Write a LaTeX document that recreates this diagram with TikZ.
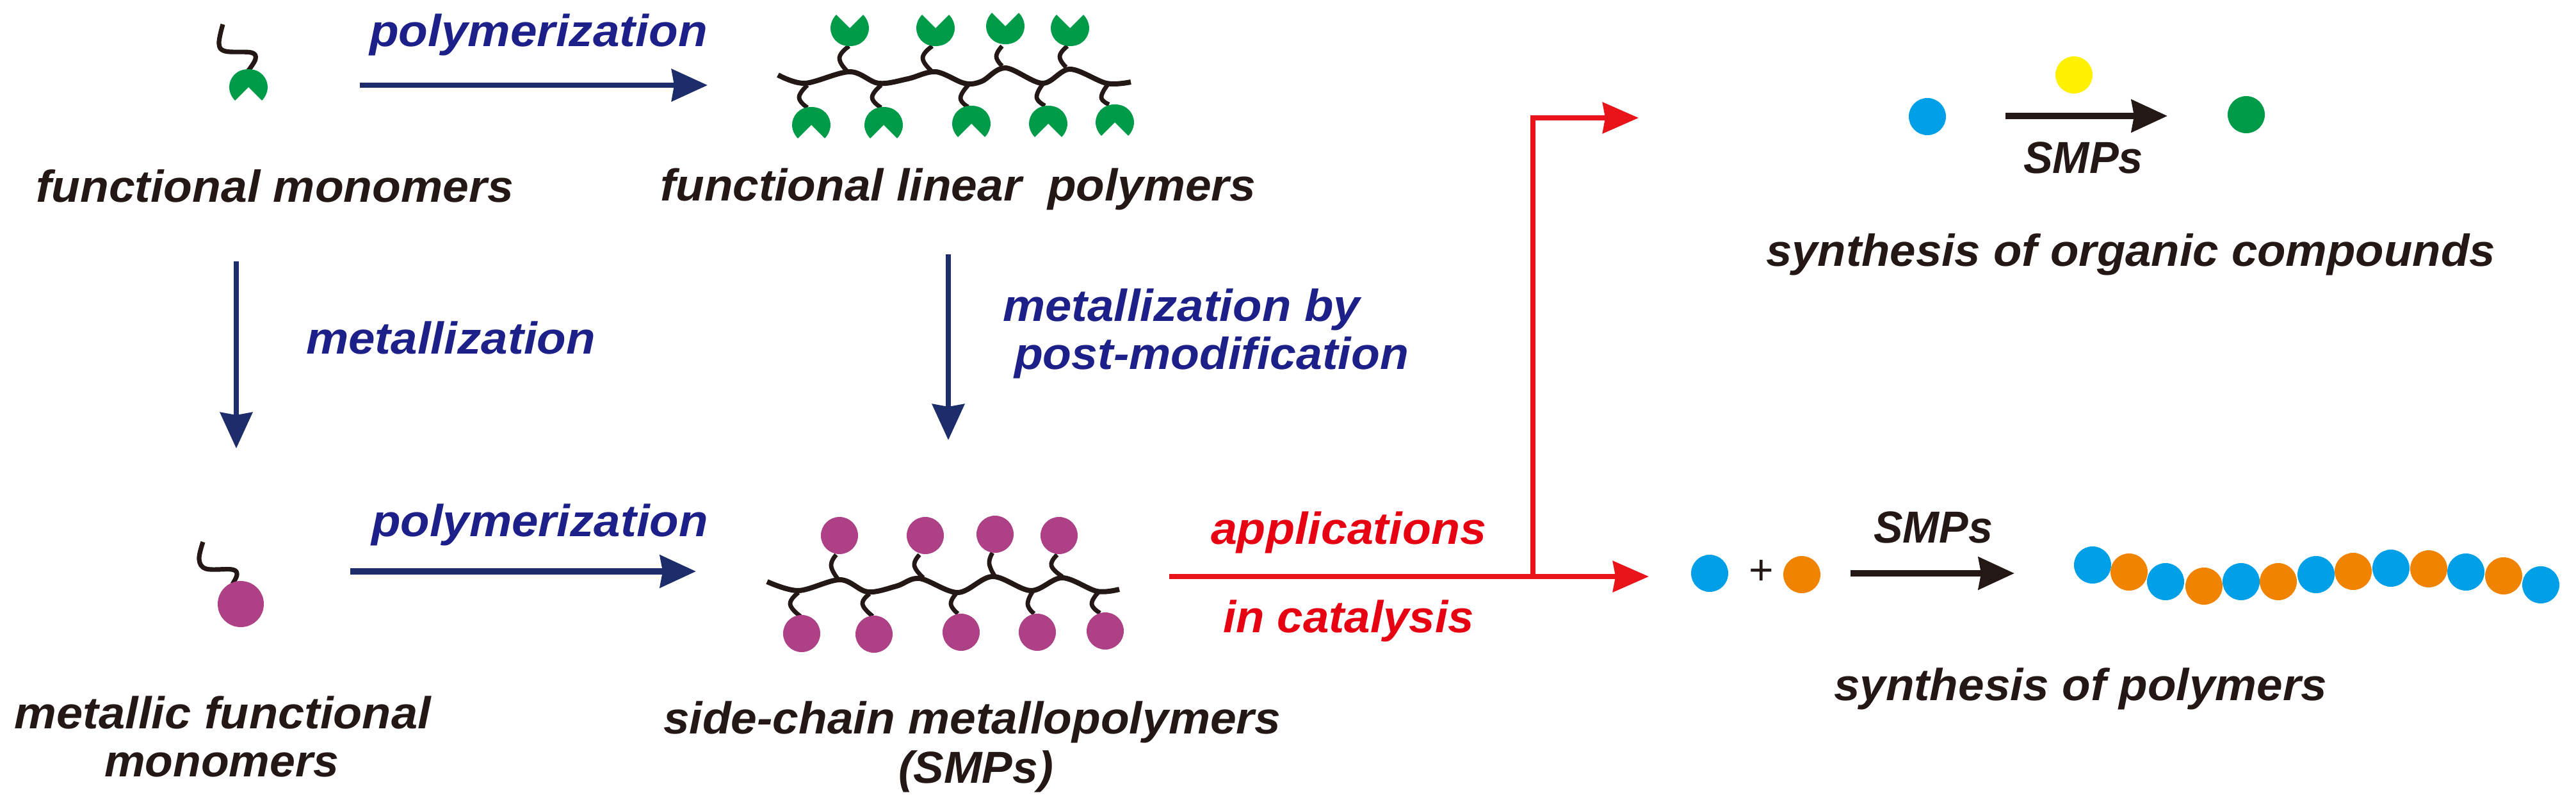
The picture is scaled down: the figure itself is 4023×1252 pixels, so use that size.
\documentclass[tikz,border=0pt]{standalone}
\usepackage{fontspec}
\usepackage{graphicx}
\setmainfont{Liberation Sans}
\usetikzlibrary{arrows.meta}
\definecolor{cblack}{HTML}{231815}
\definecolor{cnavyline}{HTML}{1D2C6B}
\definecolor{cnavytext}{HTML}{1D2088}
\definecolor{credline}{HTML}{E8141A}
\definecolor{credtext}{HTML}{E60012}
\definecolor{cgreen}{HTML}{009B48}
\definecolor{cpurple}{HTML}{AE4085}
\definecolor{cblue}{HTML}{00A0E9}
\definecolor{corange}{HTML}{F08300}
\definecolor{cyellow}{HTML}{FFF100}
\newlength\fitlen
\newcommand\fitto[2]{\settowidth\fitlen{#2}\pgfmathsetmacro\fitr{#1*0.5pt/\fitlen}\scalebox{\fitr}[1]{#2}}
\tikzset{
  x=0.5pt,y=-0.5pt,
  lab/.style={anchor=base west,inner sep=0pt,outer sep=0pt,font=\fontsize{35}{40}\selectfont\bfseries\itshape},
  blk/.style={lab,text=cblack},
  nav/.style={lab,text=cnavytext},
  rd/.style={lab,text=credtext},
  navyarrow/.style={draw=cnavyline,line width=#1,-{Stealth[length=28pt,width=25pt,inset=2pt]}},
  blackarrow/.style={draw=cblack,line width=5pt,-{Stealth[length=28pt,width=25pt,inset=2pt]}},
  redline/.style={draw=credline,line width=3.8pt},
  redarrow/.style={redline,-{Stealth[length=28pt,width=24pt,inset=2pt]}},
  backbone/.style={draw=cblack,line width=4pt,line join=round},
  sidechain/.style={draw=cblack,line width=3.4pt},
  ball/.style={circle,fill=#1,inner sep=0pt,outer sep=0pt},
  sball/.style={ball=#1,minimum size=29pt},
  mball/.style={ball=#1,minimum size=29pt},
  tulip/.pic={\fill[cgreen] (0,0) .. controls (-20,0) and (-30,-15) .. (-30,-28)
     .. controls (-30,-36) and (-26,-44) .. (-21,-49) -- (0,-28) -- (21,-49)
     .. controls (26,-44) and (30,-36) .. (30,-28) .. controls (30,-15) and (20,0) .. (0,0) -- cycle;}
}
\newcommand\wig[3]{\draw[sidechain] plot[smooth,tension=0.8] coordinates {#1 #2 #3};}
\begin{document}
\begin{tikzpicture}
\useasboundingbox[fill=white] (0,0) rectangle (4023,1252);

% top-left monomer
\draw[sidechain,line width=3.6pt,line join=round] plot[smooth,tension=0.6] coordinates {(348,38) (342,68) (352,80) (392,82) (399,92) (388,110)};
\pic at (388,108) [yscale=-1] {tulip};

% top polymer
\draw[backbone] plot[smooth,tension=0.55] coordinates {(1215,117) (1257,130) (1327,112) (1372,130) (1418,123) (1461,112) (1506,130) (1533,127) (1570,106) (1628,130) (1671,108) (1728,130) (1766,128)};
\wig{(1326,72)}{(1311,90)}{(1322,110)}
\wig{(1456,72)}{(1441,90)}{(1454,110)}
\wig{(1565,72)}{(1556,88)}{(1565,103)}
\wig{(1667,72)}{(1655,88)}{(1665,105)}
\wig{(1261,133)}{(1248,152)}{(1261,168)}
\wig{(1376,133)}{(1362,152)}{(1376,168)}
\wig{(1512,133)}{(1500,153)}{(1512,167)}
\wig{(1628,132)}{(1619,152)}{(1632,165)}
\wig{(1730,132)}{(1720,152)}{(1732,163)}
\pic at (1327,72) {tulip};
\pic at (1461,72) {tulip};
\pic at (1570,69) {tulip};
\pic at (1671,72) {tulip};
\pic at (1267,167) [yscale=-1] {tulip};
\pic at (1380,167) [yscale=-1] {tulip};
\pic at (1517,165) [yscale=-1] {tulip};
\pic at (1637,165) [yscale=-1] {tulip};
\pic at (1741,163) [yscale=-1] {tulip};

% bottom-left metallic monomer
\draw[sidechain,line width=3.6pt,line join=round] plot[smooth,tension=0.6] coordinates {(317,846) (311,873) (322,888) (362,889) (370,897) (363,912)};
\node[ball=cpurple,minimum size=36pt] (mono) at (376,943) {};

% bottom polymer
\draw[backbone] plot[smooth,tension=0.55] coordinates {(1198,908) (1247,922) (1312,905) (1355,924) (1400,915) (1436,903) (1496,925) (1550,900) (1610,922) (1659,902) (1713,923) (1748,920)};
\wig{(1306,866)}{(1298,883)}{(1308,903)}
\wig{(1436,866)}{(1428,883)}{(1442,902)}
\wig{(1550,863)}{(1545,880)}{(1554,900)}
\wig{(1651,866)}{(1642,883)}{(1659,900)}
\wig{(1247,925)}{(1234,943)}{(1250,962)}
\wig{(1358,927)}{(1347,943)}{(1363,962)}
\wig{(1493,927)}{(1485,943)}{(1496,958)}
\wig{(1613,923)}{(1605,943)}{(1615,958)}
\wig{(1715,925)}{(1705,943)}{(1718,957)}
\foreach \n/\px/\py in {u1/1311/836,u2/1445/836,u3/1554/834,u4/1654/836,d1/1252/989,d2/1365/990,d3/1501/987,d4/1620/987,d5/1726/985}
  \node[mball=cpurple] (m\n) at (\px,\py) {};

% navy arrows
\coordinate (a1s) at (562,133); \coordinate (a1e) at (1105,133);
\draw[navyarrow=4pt] (a1s) -- (a1e);
\coordinate (a2s) at (547,892); \coordinate (a2e) at (1087,892);
\draw[navyarrow=5pt] (a2s) -- (a2e);
\coordinate (a3s) at (369,408); \coordinate (a3e) at (369,700);
\draw[navyarrow=4pt] (a3s) -- (a3e);
\coordinate (a4s) at (1481,397); \coordinate (a4e) at (1481,687);
\draw[navyarrow=4pt] (a4s) -- (a4e);

% red arrows
\coordinate (r0) at (1826,900); \coordinate (rj) at (2394,900);
\coordinate (r1) at (2575,900); \coordinate (rt) at (2394,184); \coordinate (r2) at (2559,184);
\draw[redarrow] (r0) -- (r1);
\draw[redarrow] (rj) -- (rt) -- (r2);

% top right reaction
\node[sball=cblue] (b1) at (3010,182) {};
\node[sball=cyellow] (y1) at (3239,117) {};
\node[sball=cgreen] (g1) at (3508,179) {};
\coordinate (k1s) at (3132,181); \coordinate (k1e) at (3385,181);
\draw[blackarrow] (k1s) -- (k1e);

% bottom right reaction
\node[sball=cblue] (b2) at (2670,895) {};
\node[sball=corange] (o2) at (2814,897) {};
\node[inner sep=0pt,text=cblack,font=\fontsize{33}{38}\selectfont] (plus) at (2751,893) {+};
\coordinate (k2s) at (2890,895); \coordinate (k2e) at (3146,895);
\draw[blackarrow] (k2s) -- (k2e);
\foreach \n/\px/\py/\c in {1/3268/882/cblue,2/3325/893/corange,3/3382/908/cblue,4/3442/915/corange,5/3500/908/cblue,6/3558/908/corange,7/3617/897/cblue,8/3675/892/corange,9/3734/887/cblue,10/3793/888/corange,11/3851/893/cblue,12/3910/899/corange,13/3968/913/cblue}
  \node[sball=\c] (p\n) at (\px,\py) {};

% labels
\node[nav] (t1) at (577,73) {\fitto{528}{polymerization}};
\node[nav] (t2) at (580,837) {\fitto{526}{polymerization}};
\node[nav] (t3) at (478,552) {\fitto{452}{metallization}};
\node[nav] (t4) at (1566,501) {\fitto{558}{metallization by}};
\node[nav] (t5) at (1584,576) {\fitto{616}{post-modification}};
\node[blk] (t6) at (56,315) {\fitto{746}{functional monomers}};
\node[blk] (t7) at (1031,313) {\fitto{930}{functional linear\ \ polymers}};
\node[blk] (t8) at (23,1137) {\fitto{650}{metallic functional}};
\node[blk] (t9) at (163,1212) {\fitto{366}{monomers}};
\node[blk] (t10) at (1036,1145) {\fitto{964}{side-chain metallopolymers}};
\node[blk] (t11) at (1403,1222) {\fitto{242}{(SMPs)}};
\node[rd] (t12) at (1891,849) {\fitto{430}{applications}};
\node[rd] (t13) at (1910,987) {\fitto{392}{in catalysis}};
\node[blk] (t14) at (3160,270) {\fitto{187}{SMPs}};
\node[blk] (t15) at (2926,847) {\fitto{186}{SMPs}};
\node[blk] (t16) at (2758,415) {\fitto{1139}{synthesis of organic compounds}};
\node[blk] (t17) at (2864,1093) {\fitto{770}{synthesis of polymers}};
\end{tikzpicture}
\end{document}
